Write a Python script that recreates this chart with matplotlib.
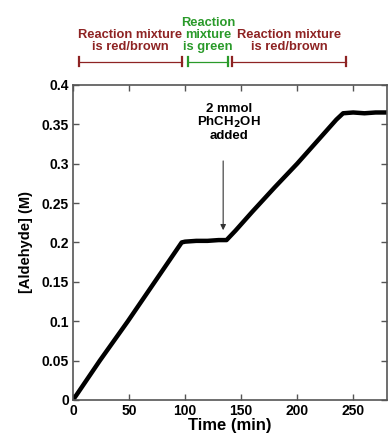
import matplotlib.pyplot as plt

plt.rcParams['font.family'] = ['Liberation Sans', 'DejaVu Sans']
plt.rcParams['font.weight'] = 'bold'

# digitised aldehyde concentration vs time
time_min = [0, 3, 24, 49, 73, 97, 100, 110, 120, 130, 137,
            145, 160, 180, 200, 220, 235, 241, 250, 260, 270, 280]
aldehyde_M = [0, 0.006, 0.050, 0.100, 0.150, 0.200,
              0.201, 0.202, 0.202, 0.203, 0.203,
              0.215, 0.239, 0.270, 0.300, 0.332, 0.356, 0.364, 0.365, 0.364, 0.365, 0.365]

# colour phases shown above the plot (start, end, label, colour)
phase_start = [5, 103, 142]
phase_end = [97, 138, 244]
phase_label = ["Reaction mixture\nis red/brown", "Reaction\nmixture\nis green",
               "Reaction mixture\nis red/brown"]
phase_color = ["#8e2323", "#2a9a2a", "#8e2323"]

fig = plt.figure(figsize=(3.88, 4.40), dpi=100)
ax = fig.add_axes([0.188, 0.091, 0.809, 0.716])

ax.plot(time_min, aldehyde_M, color='black', lw=3.2, solid_capstyle='round')

ax.set_xlim(0, 280)
ax.set_ylim(0, 0.4)
ax.set_xticks([0, 50, 100, 150, 200, 250])
ax.set_yticks([0, 0.05, 0.1, 0.15, 0.2, 0.25, 0.3, 0.35, 0.4])
ax.set_yticklabels(["0", "0.05", "0.1", "0.15", "0.2", "0.25", "0.3", "0.35", "0.4"])
ax.tick_params(direction='in', top=True, right=True, labeltop=False, labelright=False,
               length=4, width=1, color='#555555', labelsize=10, pad=3)
for s in ax.spines.values():
    s.set_color('#555555')
    s.set_linewidth(1.2)

ax.set_xlabel("Time (min)", fontsize=12, fontweight='bold', labelpad=0)
ax.set_ylabel("[Aldehyde] (M)", fontsize=10.5, fontweight='bold', labelpad=6)

# arrow for the benzyl alcohol addition
ax.annotate("", xy=(134, 0.212), xytext=(134, 0.307),
            arrowprops=dict(arrowstyle='-|>', color='#333333', lw=0.8,
                            mutation_scale=8))
ax.text(139, 0.352, "2 mmol\nPhCH$_2$OH\nadded", ha='center', va='center',
        fontsize=9.5, fontweight='bold', linespacing=1.0)

# colour phase bars above the axes
bar_y = 0.4295
for x0, x1, lab, col in zip(phase_start, phase_end, phase_label, phase_color):
    ax.plot([x0, x1], [bar_y, bar_y], color=col, lw=0.9, clip_on=False)
    for xe in (x0, x1):
        ax.plot([xe, xe], [bar_y - 0.006, bar_y + 0.006], color=col, lw=1.6,
                clip_on=False)
    ax.text((x0 + x1) / 2, bar_y + 0.011, lab, color=col, ha='center', va='bottom',
            fontsize=9.3, fontweight='bold', linespacing=1.0, clip_on=False)

fig.savefig("out.png", dpi=100)
